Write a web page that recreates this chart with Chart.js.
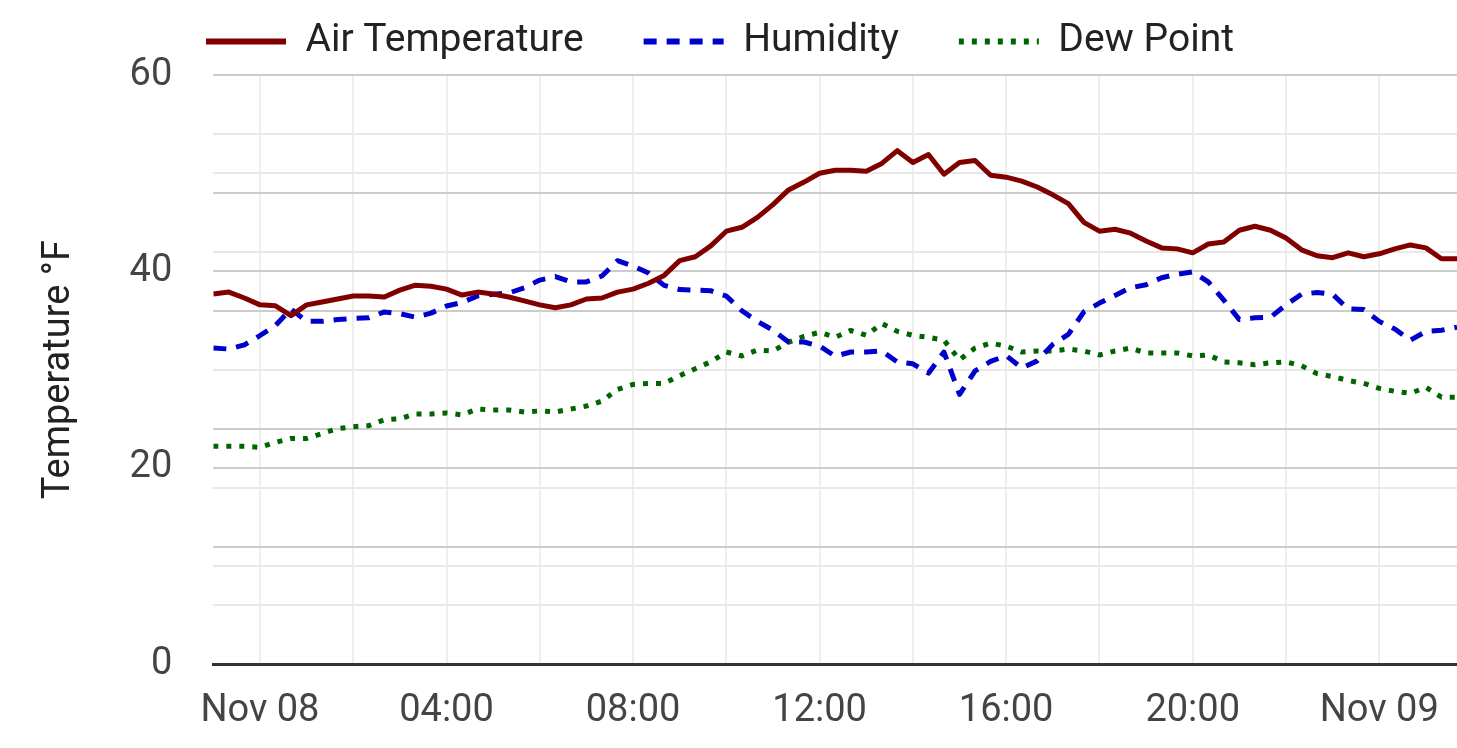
<!DOCTYPE html>
<html>
<head>
<meta charset="utf-8">
<script src="https://cdn.jsdelivr.net/npm/chart.js@4/dist/chart.umd.min.js"></script>
<style>
  html, body { margin: 0; padding: 0; background: #fff; }
  #wrap { width: 1457px; height: 748px; }
</style>
</head>
<body>
<div id="wrap"><canvas id="weatherChart"></canvas></div>
<script>
// readings every 20 minutes, starting Nov 07 23:00 (hours relative to Nov 08 00:00)
const startHour = -1;
const stepMinutes = 20;

const airTemp = [
  37.7, 37.9, 37.3, 36.6, 36.5, 35.5, 36.6, 36.9, 37.2, 37.5,
  37.5, 37.4, 38.1, 38.6, 38.5, 38.2, 37.6, 37.9, 37.7, 37.4,
  37.0, 36.6, 36.3, 36.6, 37.2, 37.3, 37.9, 38.2, 38.8, 39.6,
  41.1, 41.5, 42.6, 44.1, 44.5, 45.5, 46.8, 48.3, 49.1, 50.0,
  50.3, 50.3, 50.2, 51.0, 52.3, 51.1, 51.9, 49.9, 51.1, 51.3,
  49.8, 49.6, 49.2, 48.6, 47.8, 46.9, 45.0, 44.1, 44.3, 43.9,
  43.1, 42.4, 42.3, 41.9, 42.8, 43.0, 44.2, 44.6, 44.2, 43.4,
  42.2, 41.6, 41.4, 41.9, 41.5, 41.8, 42.3, 42.7, 42.4, 41.3,
  41.3
];

// relative humidity, %
const humidity = [
  53.7, 53.5, 54.2, 55.8, 57.5, 60.3, 58.2, 58.2, 58.5, 58.7,
  58.8, 59.8, 59.5, 58.9, 59.6, 60.8, 61.4, 62.5, 62.8, 63.0,
  63.9, 65.2, 65.8, 64.9, 64.9, 65.9, 68.5, 67.6, 66.4, 64.3,
  63.6, 63.5, 63.4, 62.5, 60.0, 58.2, 56.7, 54.7, 54.7, 54.0,
  52.3, 53.0, 53.0, 53.2, 51.3, 51.0, 49.4, 53.0, 45.8, 49.8,
  51.4, 52.4, 50.3, 51.5, 54.3, 56.0, 59.8, 61.3, 62.6, 63.9,
  64.4, 65.6, 66.2, 66.6, 64.9, 61.8, 58.5, 58.8, 58.9, 61.0,
  62.8, 63.1, 62.8, 60.3, 60.2, 58.2, 56.9, 55.0, 56.5, 56.7,
  57.2
];

const dewPoint = [
  22.2, 22.2, 22.2, 22.1, 22.6, 23.0, 23.0, 23.5, 24.0, 24.2,
  24.3, 24.9, 25.0, 25.5, 25.5, 25.6, 25.4, 26.0, 25.9, 25.9,
  25.7, 25.8, 25.7, 26.0, 26.3, 26.8, 28.0, 28.5, 28.6, 28.6,
  29.4, 30.1, 30.8, 31.8, 31.4, 32.0, 31.9, 32.8, 33.4, 33.8,
  33.3, 34.0, 33.5, 34.7, 33.9, 33.5, 33.3, 33.0, 31.0, 32.2,
  32.7, 32.4, 31.8, 31.9, 31.9, 32.1, 31.9, 31.5, 31.9, 32.2,
  31.7, 31.7, 31.7, 31.4, 31.5, 30.8, 30.7, 30.5, 30.7, 30.8,
  30.4, 29.6, 29.3, 28.9, 28.6, 28.1, 27.8, 27.6, 28.2, 27.2,
  27.2
];

const dayLabels = { 0: 'Nov 08', 24: 'Nov 09' };
const tempTicks = [0, 20, 40, 60];       // labelled, darker grid
const tempMinorTicks = [10, 30, 50];
const humidityTicks = [20, 40, 60, 80];  // % on the hidden humidity axis
const humidityMinorTicks = [10, 30, 50, 70, 90];

const tempMax = 60;
const humidityMax = 100;

function toPoints(values) {
  return values.map((v, i) => ({ x: startHour + i * stepMinutes / 60, y: v }));
}

const lastHour = startHour + (airTemp.length - 1) * stepMinutes / 60;

function hourLabel(v) {
  if (v % 4 !== 0) return '';
  if (dayLabels[v] !== undefined) return dayLabels[v];
  return String(v).padStart(2, '0') + ':00';
}

// humidity grid drawn on the temperature axis
const pctToTemp = (p) => p * tempMax / humidityMax;
const majorGrid = tempTicks.concat(humidityTicks.map(pctToTemp));
const allGrid = majorGrid.concat(tempMinorTicks, humidityMinorTicks.map(pctToTemp))
  .filter((v, i, a) => a.indexOf(v) === i)
  .sort((a, b) => a - b);

const fontFamily = 'Roboto, "Noto Sans", sans-serif';

// keep wide gaps between legend items but a short legend band
const legendBand = {
  id: 'legendBand',
  beforeInit(chart) {
    const legend = chart.legend;
    const fit = legend.fit;
    legend.fit = function () {
      fit.call(this);
      this.height = 75;
    };
  },
  afterLayout(chart) {
    const lg = chart.legend;
    lg.top -= 38;
    lg.left -= 27;
    lg.right -= 27;
  }
};

let ctx = document.getElementById('weatherChart').getContext('2d');
let weatherChart = new Chart(ctx, {
  type: 'line',
  data: {
    datasets: [
      {
        label: 'Air Temperature',
        data: toPoints(airTemp),
        borderColor: '#800000',
        backgroundColor: '#800000',
        borderWidth: 5,
        yAxisID: 'y',
      },
      {
        label: 'Humidity',
        data: toPoints(humidity),
        borderColor: '#0000cc',
        backgroundColor: '#0000cc',
        borderWidth: 5,
        borderDash: [13, 10],
        yAxisID: 'y2',
      },
      {
        label: 'Dew Point',
        data: toPoints(dewPoint),
        borderColor: '#006400',
        backgroundColor: '#006400',
        borderWidth: 5,
        borderDash: [5, 8],
        yAxisID: 'y',
      }
    ]
  },
  plugins: [legendBand],
  options: {
    responsive: true,
    maintainAspectRatio: false,
    animation: false,
    elements: {
      point: { radius: 0, hoverRadius: 0, hitRadius: 0 },
      line: { tension: 0, borderJoinStyle: 'round' }
    },
    layout: {
      autoPadding: false,
      padding: { left: 37, right: 0, top: 0, bottom: -10 }
    },
    plugins: {
      legend: {
        display: true,
        position: 'top',
        labels: {
          usePointStyle: true,
          pointStyle: 'line',
          pointStyleWidth: 80,
          padding: 60,
          color: '#222',
          font: { family: fontFamily, size: 39 },
          generateLabels: (chart) => {
            const items = Chart.defaults.plugins.legend.labels.generateLabels(chart);
            items.forEach((it) => {
              const ds = chart.data.datasets[it.datasetIndex];
              it.lineDash = ds.borderDash || [];
              it.lineWidth = 6;
              it.strokeStyle = ds.borderColor;
            });
            return items;
          }
        }
      },
      tooltip: { enabled: false }
    },
    scales: {
      x: {
        type: 'linear',
        min: startHour,
        max: lastHour,
        afterFit: (scale) => {
          // the plot runs right up to the canvas edge
          scale.paddingRight = 0;
        },
        ticks: {
          stepSize: 2,
          includeBounds: false,
          autoSkip: false,
          maxRotation: 0,
          padding: 24,
          color: '#444',
          font: { family: fontFamily, size: 38 },
          callback: (v) => hourLabel(v)
        },
        grid: {
          drawTicks: false,
          lineWidth: 2,
          color: '#eeeeee'
        },
        border: { display: true, color: '#333', width: 3 }
      },
      y: {
        position: 'left',
        min: 0,
        max: tempMax,
        afterBuildTicks: (scale) => {
          scale.ticks = allGrid.map((v) => ({ value: v }));
        },
        ticks: {
          padding: 41,
          autoSkip: false,
          color: '#444',
          font: { family: fontFamily, size: 38 },
          callback: (v) => tempTicks.includes(v) ? String(v) : ''
        },
        title: {
          display: true,
          text: 'Temperature °F',
          color: '#222',
          font: { family: fontFamily, size: 38 },
          padding: { top: 0, bottom: 6 }
        },
        grid: {
          drawTicks: false,
          lineWidth: 2,
          color: (c) => majorGrid.includes(c.tick.value) ? '#cccccc' : '#e8e8e8'
        },
        border: { display: false }
      },
      y2: {
        display: false,
        min: 0,
        max: humidityMax
      }
    }
  }
});
</script>
</body>
</html>
